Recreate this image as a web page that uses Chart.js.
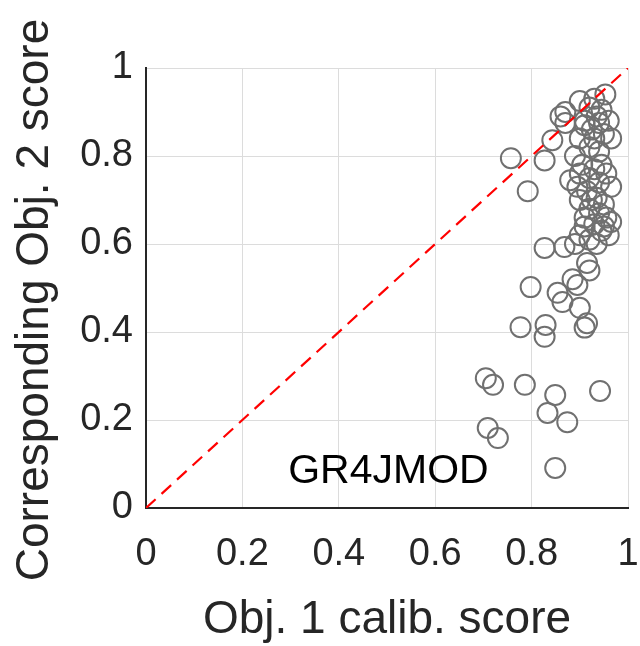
<!DOCTYPE html>
<html>
<head>
<meta charset="utf-8">
<script src="https://cdn.jsdelivr.net/npm/chart.js"></script>
<style>
  html, body { margin: 0; padding: 0; background: #fff; }
  #wrap { width: 640px; height: 646px; }
</style>
</head>
<body>
<div id="wrap"><canvas id="scoreChart" width="640" height="646"></canvas></div>
<script>
// calibration scores per catchment: objective 1 (x) vs corresponding objective 2 (y)
var obj1Scores = [
  0.953, 0.930, 0.900, 0.870, 0.860, 0.920, 0.945, 0.960, 0.940, 0.910,
  0.925, 0.950, 0.965, 0.900, 0.920, 0.940, 0.890, 0.905, 0.930, 0.955,
  0.965, 0.880, 0.895, 0.915, 0.935, 0.950, 0.900, 0.920, 0.940, 0.955,
  0.965, 0.910, 0.930, 0.945, 0.960, 0.900, 0.920, 0.935,
  0.910, 0.930, 0.920, 0.940, 0.910, 0.925, 0.945, 0.900, 0.935, 0.950,
  0.757, 0.792, 0.827, 0.843, 0.870,
  0.827, 0.868, 0.890, 0.915, 0.920, 0.895, 0.885, 0.798, 0.854, 0.864,
  0.900, 0.915, 0.910, 0.777, 0.829, 0.827,
  0.705, 0.720, 0.786, 0.849, 0.833, 0.874, 0.709, 0.730, 0.849, 0.942
];
var obj2Scores = [
  0.940, 0.930, 0.925, 0.900, 0.890, 0.910, 0.905, 0.880, 0.875, 0.870,
  0.860, 0.850, 0.840, 0.840, 0.820, 0.810, 0.800, 0.780, 0.770, 0.760,
  0.730, 0.745, 0.730, 0.720, 0.705, 0.690, 0.700, 0.680, 0.670, 0.660,
  0.650, 0.660, 0.645, 0.630, 0.620, 0.620, 0.610, 0.600,
  0.880, 0.840, 0.750, 0.740, 0.640, 0.700, 0.780, 0.760, 0.890, 0.640,
  0.795, 0.720, 0.790, 0.836, 0.875,
  0.591, 0.593, 0.600, 0.557, 0.540, 0.507, 0.520, 0.502, 0.489, 0.468,
  0.455, 0.420, 0.410, 0.411, 0.416, 0.389,
  0.295, 0.280, 0.280, 0.257, 0.216, 0.195, 0.182, 0.159, 0.091, 0.266
];
var tickValues = [0, 0.2, 0.4, 0.6, 0.8, 1];
var tickLabels = ['0', '0.2', '0.4', '0.6', '0.8', '1'];
var modelName = 'GR4JMOD';
var xTitle = 'Obj. 1 calib. score';
var yTitle = 'Corresponding Obj. 2 score';

(function() {
    'use strict';

    var fontFamily = '"Liberation Sans", Arial, Helvetica, sans-serif';
    var textColor = '#262626';

    var points = obj1Scores.map(function(v, i) {
        return { x: v, y: obj2Scores[i] };
    });

    // model name inside the axes + both axis titles
    var labelPlugin = {
        id: 'modelLabel',
        afterDraw: function(chart) {
            var c = chart.ctx;
            var xs = chart.scales.x, ys = chart.scales.y;
            var area = chart.chartArea;
            c.save();
            c.textAlign = 'center';

            c.font = '41px ' + fontFamily;
            c.fillStyle = '#000';
            c.textBaseline = 'alphabetic';
            c.fillText(modelName, xs.getPixelForValue(0.503), ys.getPixelForValue(0.091) + 15);

            c.fillStyle = textColor;
            c.font = '46px ' + fontFamily;
            c.fillText(xTitle, (area.left + area.right) / 2, 633);

            c.translate(48, 300);
            c.rotate(-Math.PI / 2);
            c.fillText(yTitle, 0, 0);
            c.restore();
        }
    };

    function tickCb(value) {
        var idx = tickValues.findIndex(function(t) { return Math.abs(t - value) < 1e-9; });
        return idx >= 0 ? tickLabels[idx] : '';
    }

    new Chart(document.getElementById('scoreChart'), {
        type: 'scatter',
        data: {
            datasets: [{
                type: 'line',
                data: [{ x: 0, y: 0 }, { x: 1, y: 1 }],
                borderColor: '#ff0000',
                borderWidth: 2.2,
                borderDash: [13, 8],
                pointRadius: 0,
                fill: false,
                order: 0
            }, {
                data: points,
                pointRadius: 10,
                pointBorderWidth: 2,
                pointBorderColor: '#707070',
                pointBackgroundColor: 'rgba(0,0,0,0)',
                clip: false,
                order: 1
            }]
        },
        options: {
            responsive: false,
            animation: false,
            devicePixelRatio: 1,
            layout: { padding: { top: 68, right: 9, left: 0, bottom: 0 } },
            plugins: {
                legend: { display: false },
                tooltip: { enabled: false }
            },
            scales: {
                x: {
                    type: 'linear',
                    min: 0, max: 1,
                    afterFit: function(s) {
                        s.height = 138;
                        s.paddingLeft = 0;
                        s.paddingRight = 0;
                    },
                    afterBuildTicks: function(s) {
                        s.ticks = tickValues.map(function(v) { return { value: v }; });
                    },
                    ticks: {
                        callback: tickCb,
                        color: textColor,
                        font: { family: fontFamily, size: 38 },
                        padding: 24,
                        maxRotation: 0
                    },
                    grid: { color: '#dcdcdc', lineWidth: 1, drawTicks: false },
                    border: { color: textColor, width: 2 }
                },
                y: {
                    type: 'linear',
                    min: 0, max: 1,
                    afterFit: function(s) {
                        s.width = 146;
                        s.paddingTop = 0;
                        s.paddingBottom = 0;
                    },
                    afterBuildTicks: function(s) {
                        s.ticks = tickValues.map(function(v) { return { value: v }; });
                    },
                    ticks: {
                        callback: tickCb,
                        color: textColor,
                        font: { family: fontFamily, size: 38 },
                        padding: 13
                    },
                    grid: { color: '#dcdcdc', lineWidth: 1, drawTicks: false },
                    border: { color: textColor, width: 2 }
                }
            }
        },
        plugins: [labelPlugin]
    });
})();
</script>
</body>
</html>
